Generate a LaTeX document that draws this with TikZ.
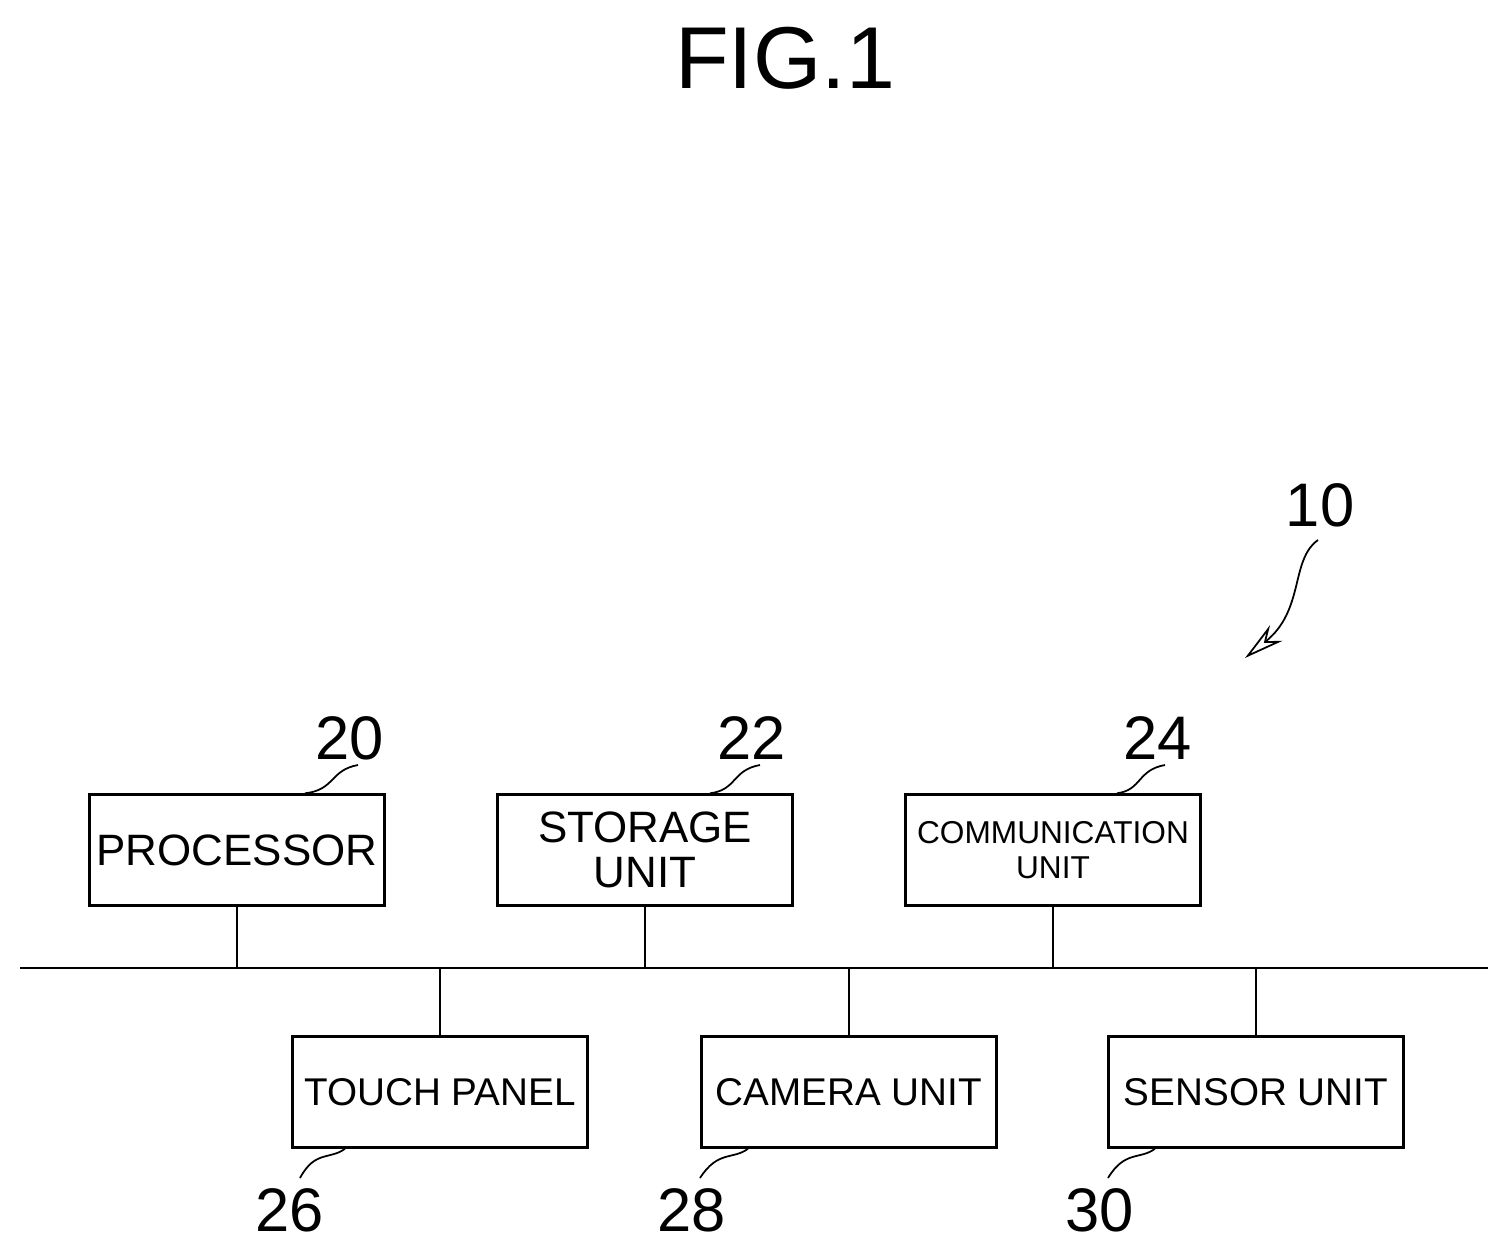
\documentclass[tikz,border=0pt]{standalone}
\usepackage{fontspec}
\setmainfont{Liberation Sans}
\usetikzlibrary{arrows.meta}
\begin{document}
\begin{tikzpicture}[x=0.02cm,y=-0.02cm,
  box/.style={draw,line width=1.4pt,minimum width=5.9cm,minimum height=2.22cm,inner sep=0pt,align=center},
  ln/.style={line width=1.4pt},
  lead/.style={line width=1pt},
  num/.style={font=\fontsize{35}{35}\selectfont}]
\useasboundingbox (0,0) rectangle (1509,1252);
\node (fig) at (785,58) {\fontsize{50}{50}\selectfont FIG.1};
\node[box,font=\fontsize{25}{25}\selectfont] (p) at (237,850) {PROCESSOR};
\node[box,font=\fontsize{25}{26}\selectfont] (s) at (645,850) {STORAGE\\UNIT};
\node[box,font=\fontsize{18}{20}\selectfont] (c) at (1053,850) {COMMUNICATION\\UNIT};
\node[box,font=\fontsize{22}{22}\selectfont] (t) at (440,1092) {TOUCH PANEL};
\node[box,font=\fontsize{22}{22}\selectfont] (ca) at (849,1092) {CAMERA UNIT};
\node[box,font=\fontsize{22}{22}\selectfont] (se) at (1256,1092) {SENSOR UNIT};
\coordinate (b1) at (20,968); \coordinate (b2) at (1488,968);
\draw[ln] (b1) -- (b2);
\foreach \n in {p,s,c}{\draw[ln] (\n.south) -- (\n.south |- b1);}
\foreach \n in {t,ca,se}{\draw[ln] (\n.north) -- (\n.north |- b1);}
\node[num] (n20) at (350,738) {20};
\node[num] (n22) at (752,738) {22};
\node[num] (n24) at (1158,738) {24};
\node[num] (n26) at (290,1210) {26};
\node[num] (n28) at (692,1210) {28};
\node[num] (n30) at (1100,1210) {30};
\node[num] (n10) at (1320,505) {10};
\draw[lead] (358,765) .. controls (330,770) and (335,790) .. (p.north east -| 305,795);
\draw[lead] (760,765) .. controls (732,770) and (737,790) .. (s.north east -| 710,795);
\draw[lead] (1165,765) .. controls (1137,770) and (1142,790) .. (c.north east -| 1117,795);
\draw[lead] (t.south east -| 345,1148) .. controls (330,1160) and (315,1150) .. (300,1178);
\draw[lead] (ca.south east -| 748,1148) .. controls (733,1160) and (718,1150) .. (700,1178);
\draw[lead] (se.south east -| 1155,1148) .. controls (1140,1160) and (1125,1150) .. (1108,1178);
\coordinate (a10) at (1245,658);
\draw[lead,-{Stealth[length=8mm,width=4mm,open]}] (1318,540) .. controls (1290,560) and (1305,610) .. (a10);
\end{tikzpicture}
\end{document}
